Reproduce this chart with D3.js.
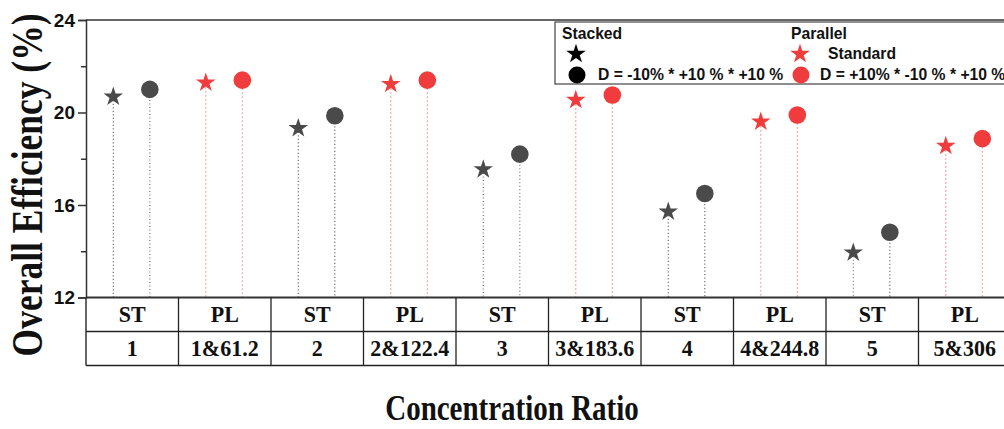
<!DOCTYPE html>
<html>
<head>
<meta charset="utf-8">
<script src="https://cdn.jsdelivr.net/npm/d3@7"></script>
<style>
  html, body { margin: 0; padding: 0; background: #fff; }
  svg { display: block; }
</style>
</head>
<body>
<div id="chart"></div>
<script>
// Configuration labels under the plot: layout type and concentration ratio
const layoutLabels = ["ST", "PL", "ST", "PL", "ST", "PL", "ST", "PL", "ST", "PL"];
const ratioLabels = ["1", "1&61.2", "2", "2&122.4", "3", "3&183.6", "4", "4&244.8", "5", "5&306"];

// Overall efficiency (%) for the standard cell and for the D variation
const standardValues = [20.68, 21.29, 19.32, 21.23, 17.54, 20.54, 15.71, 19.60, 13.94, 18.55];
const variationValues = [21.00, 21.40, 19.86, 21.40, 18.20, 20.76, 16.50, 19.89, 14.82, 18.87];

const yMajorTicks = [12, 16, 20, 24];
const yMinorTicks = [14, 18, 22];

(function draw() {
  const W = 1004, H = 429;
  const plotL = 86, plotR = 1011, plotT = 20, plotB = 297.5;
  const rowH = 34;

  const grayColor = "#4a4a4a";
  const redColor = "#f03c3c";
  const graySoft = "#666";
  const redSoft = "#f7a3a3";
  const lineColor = "#333";

  const svg = d3.select("#chart").append("svg")
    .attr("width", W).attr("height", H);

  const x = d3.scaleBand().domain(d3.range(layoutLabels.length)).range([plotL, plotR]).padding(0);
  const y = d3.scaleLinear().domain([12, 24]).range([plotB, plotT]);

  const isPL = i => layoutLabels[i] === "PL";
  const markColor = i => isPL(i) ? redColor : grayColor;
  const stemColor = i => isPL(i) ? redSoft : graySoft;

  const starX = i => x(i) + x.bandwidth() * 0.295;
  const circX = i => x(i) + x.bandwidth() * 0.69;

  // Dotted stems from each marker down to the base of the axis
  const stems = svg.append("g");
  d3.range(layoutLabels.length).forEach(i => {
    stems.append("line")
      .attr("x1", starX(i)).attr("x2", starX(i))
      .attr("y1", y(standardValues[i])).attr("y2", plotB)
      .attr("stroke", stemColor(i)).attr("stroke-width", 1.1)
      .attr("stroke-dasharray", isPL(i) ? "2,2" : "1.2,2.3");
    stems.append("line")
      .attr("x1", circX(i)).attr("x2", circX(i))
      .attr("y1", y(variationValues[i])).attr("y2", plotB)
      .attr("stroke", stemColor(i)).attr("stroke-width", 1.1)
      .attr("stroke-dasharray", isPL(i) ? "2,2" : "1.2,2.3");
  });

  // Star markers: standard cell
  const starSym = d3.symbol().type(d3.symbolStar).size(118);
  svg.append("g").selectAll("path")
    .data(standardValues)
    .join("path")
    .attr("d", starSym)
    .attr("transform", (d, i) => `translate(${starX(i)},${y(d)})`)
    .attr("fill", (d, i) => markColor(i));

  // Circle markers: D variation
  svg.append("g").selectAll("circle")
    .data(variationValues)
    .join("circle")
    .attr("cx", (d, i) => circX(i))
    .attr("cy", d => y(d))
    .attr("r", 8.8)
    .attr("fill", (d, i) => markColor(i));

  // Frame: top border
  svg.append("line").attr("x1", plotL).attr("x2", W).attr("y1", plotT).attr("y2", plotT)
    .attr("stroke", lineColor).attr("stroke-width", 1.5);

  // Y axis
  const yAxis = d3.axisLeft(y).tickValues(yMajorTicks).tickSize(8).tickPadding(3).tickFormat(d3.format("d"));
  const yg = svg.append("g").attr("transform", `translate(${plotL},0)`).call(yAxis);
  yg.select(".domain").attr("stroke", lineColor).attr("stroke-width", 1.5);
  yg.selectAll(".tick line").attr("stroke", lineColor).attr("stroke-width", 1.5);
  yg.selectAll(".tick text")
    .attr("font-family", "Liberation Sans, Arial, sans-serif")
    .attr("font-weight", "bold").attr("font-size", 19).attr("fill", "#111");
  const yMinor = d3.axisLeft(y).tickValues(yMinorTicks).tickSize(5).tickFormat("");
  const ymg = svg.append("g").attr("transform", `translate(${plotL},0)`).call(yMinor);
  ymg.select(".domain").remove();
  ymg.selectAll(".tick line").attr("stroke", lineColor).attr("stroke-width", 1.5);

  // Table of labels below the plot
  const table = svg.append("g");
  const tableBottom = plotB + 2 * rowH;
  table.append("line").attr("x1", plotL).attr("x2", W).attr("y1", plotB).attr("y2", plotB)
    .attr("stroke", lineColor).attr("stroke-width", 2);
  table.append("line").attr("x1", plotL).attr("x2", W).attr("y1", plotB + rowH).attr("y2", plotB + rowH)
    .attr("stroke", "#222").attr("stroke-width", 1.3);
  table.append("line").attr("x1", plotL).attr("x2", W).attr("y1", tableBottom).attr("y2", tableBottom)
    .attr("stroke", "#222").attr("stroke-width", 1.3);
  table.append("line").attr("x1", plotL).attr("x2", plotL).attr("y1", plotB).attr("y2", tableBottom)
    .attr("stroke", lineColor).attr("stroke-width", 1.5);
  d3.range(1, layoutLabels.length + 1).forEach(i => {
    const xb = i < layoutLabels.length ? x(i) : plotR;
    table.append("line").attr("x1", xb).attr("x2", xb).attr("y1", plotB).attr("y2", tableBottom)
      .attr("stroke", "#222").attr("stroke-width", 1.3);
  });
  const cellFont = "Liberation Serif, Times New Roman, serif";
  table.selectAll("text.layout").data(layoutLabels).join("text")
    .attr("class", "layout")
    .attr("transform", (d, i) => `translate(${x(i) + x.bandwidth() / 2},${plotB + rowH / 2 + 7.5}) scale(1,1.05)`)
    .attr("text-anchor", "middle")
    .attr("font-family", cellFont).attr("font-weight", "bold").attr("font-size", 22)
    .attr("fill", "#111")
    .text(d => d);
  table.selectAll("text.ratio").data(ratioLabels).join("text")
    .attr("class", "ratio")
    .attr("transform", (d, i) => `translate(${x(i) + x.bandwidth() / 2},${plotB + rowH * 1.5 + 7}) scale(1,1.05)`)
    .attr("text-anchor", "middle")
    .attr("font-family", cellFont).attr("font-weight", "bold").attr("font-size", 22)
    .attr("fill", "#111")
    .text(d => d);

  // Axis titles
  svg.append("text")
    .attr("transform", "translate(512,420) scale(1,1.2)")
    .attr("text-anchor", "middle")
    .attr("font-family", cellFont).attr("font-weight", "bold").attr("font-size", 29)
    .attr("fill", "#111")
    .text("Concentration Ratio");
  svg.append("text")
    .attr("transform", "translate(42,185) rotate(-90) scale(1,1.22)")
    .attr("text-anchor", "middle")
    .attr("font-family", cellFont).attr("font-weight", "bold").attr("font-size", 35.5)
    .attr("fill", "#111")
    .text("Overall Efficiency (%)");

  // Legend
  const lg = svg.append("g");
  const legendFont = "Liberation Sans, Arial, sans-serif";
  lg.append("rect").attr("x", 555).attr("y", 22).attr("width", 470).attr("height", 62)
    .attr("fill", "#fff").attr("stroke", "#444").attr("stroke-width", 1.2);
  const legendText = (tx, ty, s) => lg.append("text")
    .attr("x", tx).attr("y", ty)
    .attr("font-family", legendFont).attr("font-weight", "bold").attr("font-size", 15.7)
    .attr("fill", "#111").text(s);
  legendText(562, 39, "Stacked");
  legendText(791, 39, "Parallel");
  lg.append("path").attr("d", starSym).attr("transform", "translate(576,54)").attr("fill", "#000");
  lg.append("circle").attr("cx", 577).attr("cy", 75).attr("r", 8.5).attr("fill", "#000");
  legendText(598, 80, "D = -10% * +10 % * +10 %");
  lg.append("path").attr("d", starSym).attr("transform", "translate(800,54)").attr("fill", redColor);
  legendText(828, 59, "Standard");
  lg.append("circle").attr("cx", 801).attr("cy", 75).attr("r", 8.5).attr("fill", redColor);
  legendText(820, 80, "D = +10% * -10 % * +10 %");
})();
</script>
</body>
</html>
